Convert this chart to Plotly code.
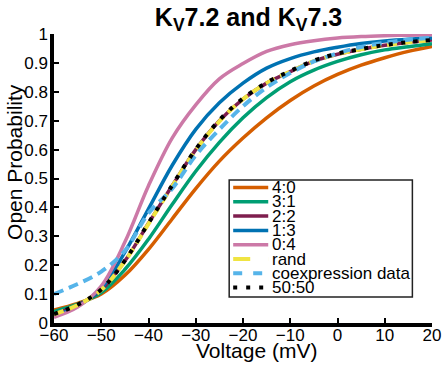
import plotly.graph_objects as go

# ---------------- data ----------------
voltage = [-60, -55, -50, -45, -40, -35, -30, -25, -20, -15, -10, -5, 0, 5, 10, 15, 20]

p_4_0 = [0.045, 0.068, 0.100, 0.165, 0.255, 0.360, 0.465, 0.560, 0.640, 0.710, 0.770, 0.820, 0.860, 0.892, 0.918, 0.940, 0.957]
p_3_1 = [0.040, 0.065, 0.105, 0.185, 0.290, 0.410, 0.525, 0.625, 0.710, 0.780, 0.835, 0.875, 0.905, 0.928, 0.945, 0.956, 0.966]
p_2_2 = [0.030, 0.062, 0.115, 0.215, 0.345, 0.475, 0.600, 0.700, 0.775, 0.830, 0.870, 0.906, 0.930, 0.947, 0.961, 0.971, 0.979]
p_1_3 = [0.025, 0.058, 0.120, 0.245, 0.395, 0.545, 0.670, 0.762, 0.830, 0.882, 0.915, 0.938, 0.954, 0.967, 0.976, 0.982, 0.986]
p_0_4 = [0.020, 0.055, 0.128, 0.280, 0.475, 0.640, 0.755, 0.845, 0.898, 0.940, 0.963, 0.977, 0.986, 0.991, 0.994, 0.996, 0.997]
p_rand = [0.030, 0.062, 0.114, 0.214, 0.343, 0.473, 0.598, 0.698, 0.774, 0.830, 0.870, 0.906, 0.930, 0.947, 0.961, 0.971, 0.979]
p_coex = [0.100, 0.135, 0.178, 0.250, 0.380, 0.465, 0.580, 0.670, 0.750, 0.815, 0.865, 0.905, 0.933, 0.955, 0.970, 0.980, 0.987]
p_50_50 = [0.031, 0.063, 0.116, 0.216, 0.346, 0.476, 0.601, 0.702, 0.777, 0.832, 0.872, 0.908, 0.932, 0.948, 0.962, 0.972, 0.979]

series_names = ["4:0", "3:1", "2:2", "1:3", "0:4", "rand", "coexpression data", "50:50"]
series_values = [p_4_0, p_3_1, p_2_2, p_1_3, p_0_4, p_rand, p_coex, p_50_50]

x_ticks = [-60, -50, -40, -30, -20, -10, 0, 10, 20]
y_ticks = [0, 0.1, 0.2, 0.3, 0.4, 0.5, 0.6, 0.7, 0.8, 0.9, 1]

title_text = "<b>K<sub>V</sub>7.2 and K<sub>V</sub>7.3</b>"
x_title = "Voltage (mV)"
y_title = "Open Probability"

# ---------------- styles ----------------
colors = ["#D55E00", "#009E73", "#7E1E4E", "#0072B2", "#CC79A7", "#F0E442", "#56B4E9", "#000000"]
dashes = ["solid", "solid", "solid", "solid", "solid", "10px,6px", "10px,6px", "4px,8.5px"]
widths = [3.5, 3.5, 3.5, 3.5, 3.5, 4, 4, 4]
legend_dashes = ["solid", "solid", "solid", "solid", "solid", "17px,18px", "9px,11px", "4px,9px"]

FONT = "Liberation Sans, Arial, sans-serif"
FIG_W, FIG_H = 447, 368
# plot area in pixels (as measured on the reference)
L, R, T, B = 54, 431.6, 34, 323


def px(x):
    return (x - L) / (R - L)


def py(y):
    return (B - y) / (B - T)


fig = go.Figure()
for name, vals, c, d, w in zip(series_names, series_values, colors, dashes, widths):
    fig.add_trace(go.Scatter(
        x=voltage, y=vals, name=name, mode="lines",
        line=dict(color=c, dash=d, width=w, shape="spline", smoothing=1.0),
        showlegend=False, hoverinfo="skip",
    ))

# ---------------- compact legend, like the reference ----------------
shapes = [dict(type="rect", xref="paper", yref="paper",
               x0=px(229), x1=px(412), y0=py(297), y1=py(180),
               line=dict(color="#222222", width=1.5), fillcolor="white", layer="above")]
annotations = []
row0, row_h = 187.5, 14.3
for i, (name, c, d, w) in enumerate(zip(series_names, colors, legend_dashes, widths)):
    yc = row0 + i * row_h
    shapes.append(dict(type="line", xref="paper", yref="paper",
                       x0=px(233), x1=px(268), y0=py(yc), y1=py(yc),
                       line=dict(color=c, width=w, dash=d), layer="above"))
    annotations.append(dict(text=name, xref="paper", yref="paper",
                            x=px(270), y=py(yc), xanchor="left", yanchor="middle",
                            showarrow=False, font=dict(family=FONT, size=17, color="black")))

annotations.append(dict(text=x_title, xref="paper", yref="paper",
                        x=px(256), y=py(350), xanchor="center", yanchor="middle",
                        showarrow=False, font=dict(family=FONT, size=21, color="black")))
annotations.append(dict(text=y_title, xref="paper", yref="paper",
                        x=px(14), y=py(162), xanchor="center", yanchor="middle",
                        textangle=-90, showarrow=False,
                        font=dict(family=FONT, size=21, color="black")))

fig.update_layout(
    width=FIG_W, height=FIG_H,
    margin=dict(l=L, r=FIG_W - R, t=T, b=FIG_H - B, pad=0),
    paper_bgcolor="white", plot_bgcolor="white",
    title=dict(text=title_text, x=248.5 / FIG_W, xref="container", xanchor="center",
               y=1 - 17 / FIG_H, yref="container", yanchor="middle",
               font=dict(family=FONT, size=25, color="black")),
    font=dict(family=FONT, size=17, color="black"),
    shapes=shapes, annotations=annotations,
    showlegend=False,
)
fig.update_xaxes(range=[-60, 20], tickvals=x_ticks, ticks="inside", ticklen=5, tickwidth=2,
                 tickcolor="black", showline=True, linewidth=3.5, linecolor="black",
                 ticklabelstandoff=-6, automargin=False,
                 showgrid=False, zeroline=False, tickfont=dict(family=FONT, size=17, color="black"))
fig.update_yaxes(range=[0, 1], tickvals=y_ticks, ticks="inside", ticklen=5, tickwidth=2,
                 tickcolor="black", showline=True, linewidth=3.5, linecolor="black",
                 ticklabelstandoff=-1, automargin=False,
                 showgrid=False, zeroline=False, tickfont=dict(family=FONT, size=17, color="black"))

fig.write_html("out.html", config={"displayModeBar": False},
               post_script="document.body.style.margin='0px';")
